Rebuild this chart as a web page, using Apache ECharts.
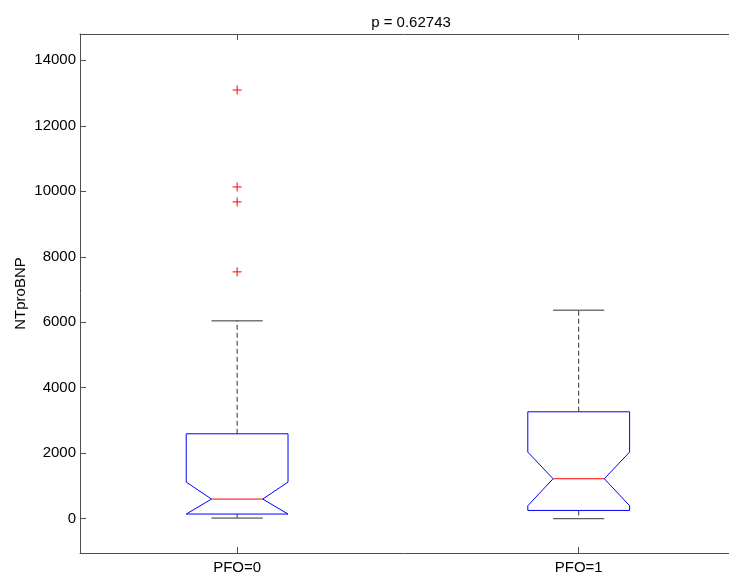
<!DOCTYPE html>
<html>
<head>
<meta charset="utf-8">
<script src="https://cdn.jsdelivr.net/npm/echarts@6/dist/echarts.min.js"></script>
<style>html,body{margin:0;padding:0;background:#fff;}#c{width:729px;height:576px;}</style>
</head>
<body>
<div id="c"></div>
<script>
var categories = ['PFO=0', 'PFO=1'];
var lowerWhisker = [20, 0];
var q1 = [143, 253];
var notchLow = [143, 397];
var median = [600, 1221];
var notchHigh = [1119, 2035];
var q3 = [2594, 3266];
var upperWhisker = [6043, 6369];
var outlierGroup = [0, 0, 0, 0];
var outlierValue = [13093, 10133, 9675, 7539];
var yTicks = [0, 2000, 4000, 6000, 8000, 10000, 12000, 14000];
var title = 'p = 0.62743';
var yName = 'NTproBNP';

var boxData = categories.map(function (c, i) {
  return [i + 1, lowerWhisker[i], q1[i], notchLow[i], median[i], notchHigh[i], q3[i], upperWhisker[i]];
});
var outData = outlierGroup.map(function (g, i) { return [g + 1, outlierValue[i]]; });

var FONT = 'Liberation Sans, Arial, sans-serif';
var chart = echarts.init(document.getElementById('c'), null, {renderer: 'canvas'});

function renderBox(params, api) {
  var x = api.value(0);
  var BW = 0.149, NW = 0.075;
  function P(dx, v) { return api.coord([x + dx, v]); }
  var lw = api.value(1), a = api.value(2), nl = api.value(3), md = api.value(4),
      nh = api.value(5), b = api.value(6), uw = api.value(7);
  var pts = [P(-BW, b), P(BW, b), P(BW, nh), P(NW, md), P(BW, nl), P(BW, a),
             P(-BW, a), P(-BW, nl), P(-NW, md), P(-BW, nh)];
  var dash = {stroke: '#333', lineWidth: 1, lineDash: [5, 3]};
  var solid = {stroke: '#333', lineWidth: 1};
  function line(p1, p2, style) {
    return {type: 'line', shape: {x1: p1[0], y1: p1[1], x2: p2[0], y2: p2[1]}, style: style};
  }
  return {
    type: 'group',
    children: [
      line(P(0, b), P(0, uw), dash),
      line(P(0, a), P(0, lw), dash),
      line(P(-NW, uw), P(NW, uw), solid),
      line(P(-NW, lw), P(NW, lw), solid),
      {type: 'polygon', shape: {points: pts}, style: {fill: 'none', stroke: '#0000ff', lineWidth: 1}},
      line(P(-NW, md), P(NW, md), {stroke: '#ff0000', lineWidth: 1})
    ]
  };
}

function renderPlus(params, api) {
  var p = api.coord([api.value(0), api.value(1)]);
  var s = 4.5;
  var st = {stroke: '#ff0000', lineWidth: 1};
  return {
    type: 'group',
    children: [
      {type: 'line', shape: {x1: p[0] - s, y1: p[1], x2: p[0] + s, y2: p[1]}, style: st},
      {type: 'line', shape: {x1: p[0], y1: p[1] - s, x2: p[0], y2: p[1] + s}, style: st}
    ]
  };
}

var axisLineStyle = {color: '#4d4d4d', width: 1};

chart.setOption({
  animation: false,
  backgroundColor: '#fff',
  title: {
    text: title, left: 406, top: 10, textAlign: 'center',
    textStyle: {fontFamily: FONT, fontSize: 15, fontWeight: 'normal', color: '#000'}
  },
  grid: {left: 80, right: 0, top: 34, bottom: 23, containLabel: false, outerBoundsMode: 'none'},
  xAxis: [{
    type: 'value', min: 0.54, max: 2.44, position: 'bottom',
    axisLine: {show: true, onZero: false, lineStyle: axisLineStyle},
    axisTick: {show: true, inside: true, length: 6, customValues: [1, 2], lineStyle: axisLineStyle},
    axisLabel: {show: true, customValues: [1, 2], margin: 7, color: '#000', fontFamily: FONT, fontSize: 15,
      formatter: function (v) { return categories[Math.round(v) - 1] || ''; }},
    splitLine: {show: false}
  }, {
    type: 'value', min: 0.54, max: 2.44, position: 'top',
    axisLine: {show: true, onZero: false, lineStyle: axisLineStyle},
    axisTick: {show: true, inside: true, length: 6, customValues: [1, 2], lineStyle: axisLineStyle},
    axisLabel: {show: false},
    splitLine: {show: false}
  }],
  yAxis: {
    type: 'value', min: -1047, max: 14804,
    name: yName, nameLocation: 'middle', nameRotate: 90, nameGap: 52, nameMoveOverlap: false,
    nameTextStyle: {fontFamily: FONT, fontSize: 15, color: '#000'},
    axisLine: {show: true, onZero: false, lineStyle: axisLineStyle},
    axisTick: {show: true, inside: true, length: 6, customValues: yTicks, lineStyle: axisLineStyle},
    axisLabel: {show: true, customValues: yTicks, margin: 4, color: '#000', fontFamily: FONT, fontSize: 15,
      formatter: function (v) { return String(v); }},
    splitLine: {show: false}
  },
  series: [{
    type: 'custom', renderItem: renderBox, data: boxData, encode: {x: 0, y: [1, 7]}, clip: false
  }, {
    type: 'custom', renderItem: renderPlus, data: outData, encode: {x: 0, y: 1}
  }]
});
</script>
</body>
</html>
